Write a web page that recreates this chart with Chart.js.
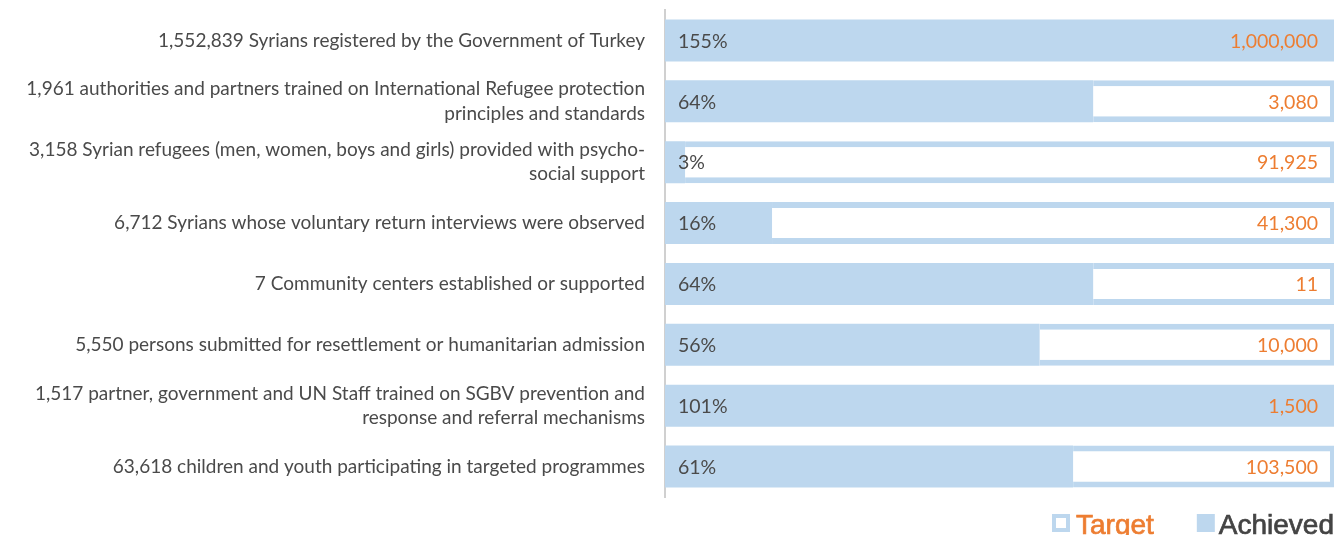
<!DOCTYPE html>
<html>
<head>
<meta charset="utf-8">
<script src="https://cdn.jsdelivr.net/npm/chart.js@4.4.1/dist/chart.umd.min.js"></script>
<style>
  body { margin: 0; background: #fff; }
  canvas { display: block; }
</style>
</head>
<body>
<canvas id="chart" width="1336" height="535"></canvas>
<script>
// Indicator labels (left axis)
const indicators = [
    '1,552,839 Syrians registered by the Government of Turkey',
    ['1,961 authorities and partners trained on International Refugee protection', 'principles and standards'],
    ['3,158 Syrian refugees (men, women, boys and girls) provided with psycho-', 'social support'],
    '6,712 Syrians whose voluntary return interviews were observed',
    '7 Community centers established or supported',
    '5,550 persons submitted for resettlement or humanitarian admission',
    ['1,517 partner, government and UN Staff trained on SGBV prevention and', 'response and referral mechanisms'],
    '63,618 children and youth participating in targeted programmes'
];
const achieved = [1552839, 1961, 3158, 6712, 7, 5550, 1517, 63618];
const targets = [1000000, 3080, 91925, 41300, 11, 10000, 1500, 103500];
const legendNames = ['Target', 'Achieved'];

const lightBlue = '#bdd7ee';
const orange = '#ed7d31';
const textGrey = '#4a4a4a';
const fontFamily = 'Lato, "Open Sans", sans-serif';
const legendFont = '28px "Liberation Sans", Arial, sans-serif';

// Percent achieved of target
const percents = achieved.map((a, i) => Math.round(a / targets[i] * 100));
const achievedBar = percents.map(p => Math.min(p, 100));
const remainingBar = percents.map(p => p >= 100 ? null : [p, 100]);

// Draws the percentage / target value text on each bar and the legend
const barTextPlugin = {
    id: 'barText',
    afterDatasetsDraw(chart) {
        const { ctx, chartArea } = chart;
        const yScale = chart.scales.y;
        ctx.save();
        ctx.textBaseline = 'middle';
        ctx.font = `19.5px ${fontFamily}`;
        percents.forEach((p, i) => {
            const y = yScale.getPixelForValue(i) + 1;
            ctx.fillStyle = textGrey;
            ctx.textAlign = 'left';
            ctx.fillText(p + '%', chartArea.left + 13, y);
            ctx.fillStyle = orange;
            ctx.textAlign = 'right';
            ctx.fillText(targets[i].toLocaleString('en-US'), chartArea.right - 16, y);
        });

        // legend, bottom right (partly cut by the canvas edge like the original)
        ctx.font = legendFont;
        ctx.textBaseline = 'alphabetic';
        ctx.textAlign = 'left';
        ctx.lineWidth = 0.7;
        const baseY = 534;
        const boxTop = 514;
        let x = chart.width - 2;
        const achievedW = ctx.measureText(legendNames[1]).width;
        ctx.fillStyle = ctx.strokeStyle = '#444444';
        ctx.fillText(legendNames[1], x - achievedW, baseY);
        ctx.strokeText(legendNames[1], x - achievedW, baseY);
        x -= achievedW + 4;
        ctx.fillStyle = lightBlue;
        ctx.fillRect(x - 18, boxTop, 18, 18);
        x -= 18 + 43;
        const targetW = ctx.measureText(legendNames[0]).width;
        ctx.fillStyle = ctx.strokeStyle = orange;
        ctx.fillText(legendNames[0], x - targetW, baseY);
        ctx.strokeText(legendNames[0], x - targetW, baseY);
        x -= targetW + 6;
        ctx.fillStyle = lightBlue;
        ctx.fillRect(x - 18, boxTop, 18, 18);
        ctx.fillStyle = '#ffffff';
        ctx.fillRect(x - 14, boxTop + 4, 10, 10);
        ctx.restore();
    }
};

new Chart(document.getElementById('chart'), {
    type: 'bar',
    data: {
        labels: indicators,
        datasets: [
            {
                label: legendNames[1],
                data: achievedBar,
                backgroundColor: lightBlue,
                borderWidth: 0,
                barPercentage: 0.69,
                categoryPercentage: 1
            },
            {
                label: legendNames[0],
                data: remainingBar,
                backgroundColor: '#ffffff',
                borderColor: lightBlue,
                borderWidth: { top: 6, bottom: 6, right: 4, left: 0 },
                borderSkipped: false,
                barPercentage: 0.69,
                categoryPercentage: 1
            }
        ]
    },
    options: {
        indexAxis: 'y',
        responsive: false,
        animation: false,
        layout: { padding: { top: 10, right: 2, bottom: 38, left: 0 } },
        plugins: {
            legend: { display: false },
            tooltip: { enabled: false }
        },
        scales: {
            x: {
                display: false,
                min: 0,
                max: 100
            },
            y: {
                stacked: true,
                grid: { display: false },
                border: { display: true, color: '#d0d0d0', width: 2 },
                ticks: {
                    color: textGrey,
                    padding: 12,
                    font: { family: fontFamily, size: 19, lineHeight: 1.27 }
                },
                afterFit(scale) {
                    scale.width = 665;
                    scale.paddingTop = 0;
                    scale.paddingBottom = 0;
                }
            }
        }
    },
    plugins: [barTextPlugin]
});
</script>
</body>
</html>
